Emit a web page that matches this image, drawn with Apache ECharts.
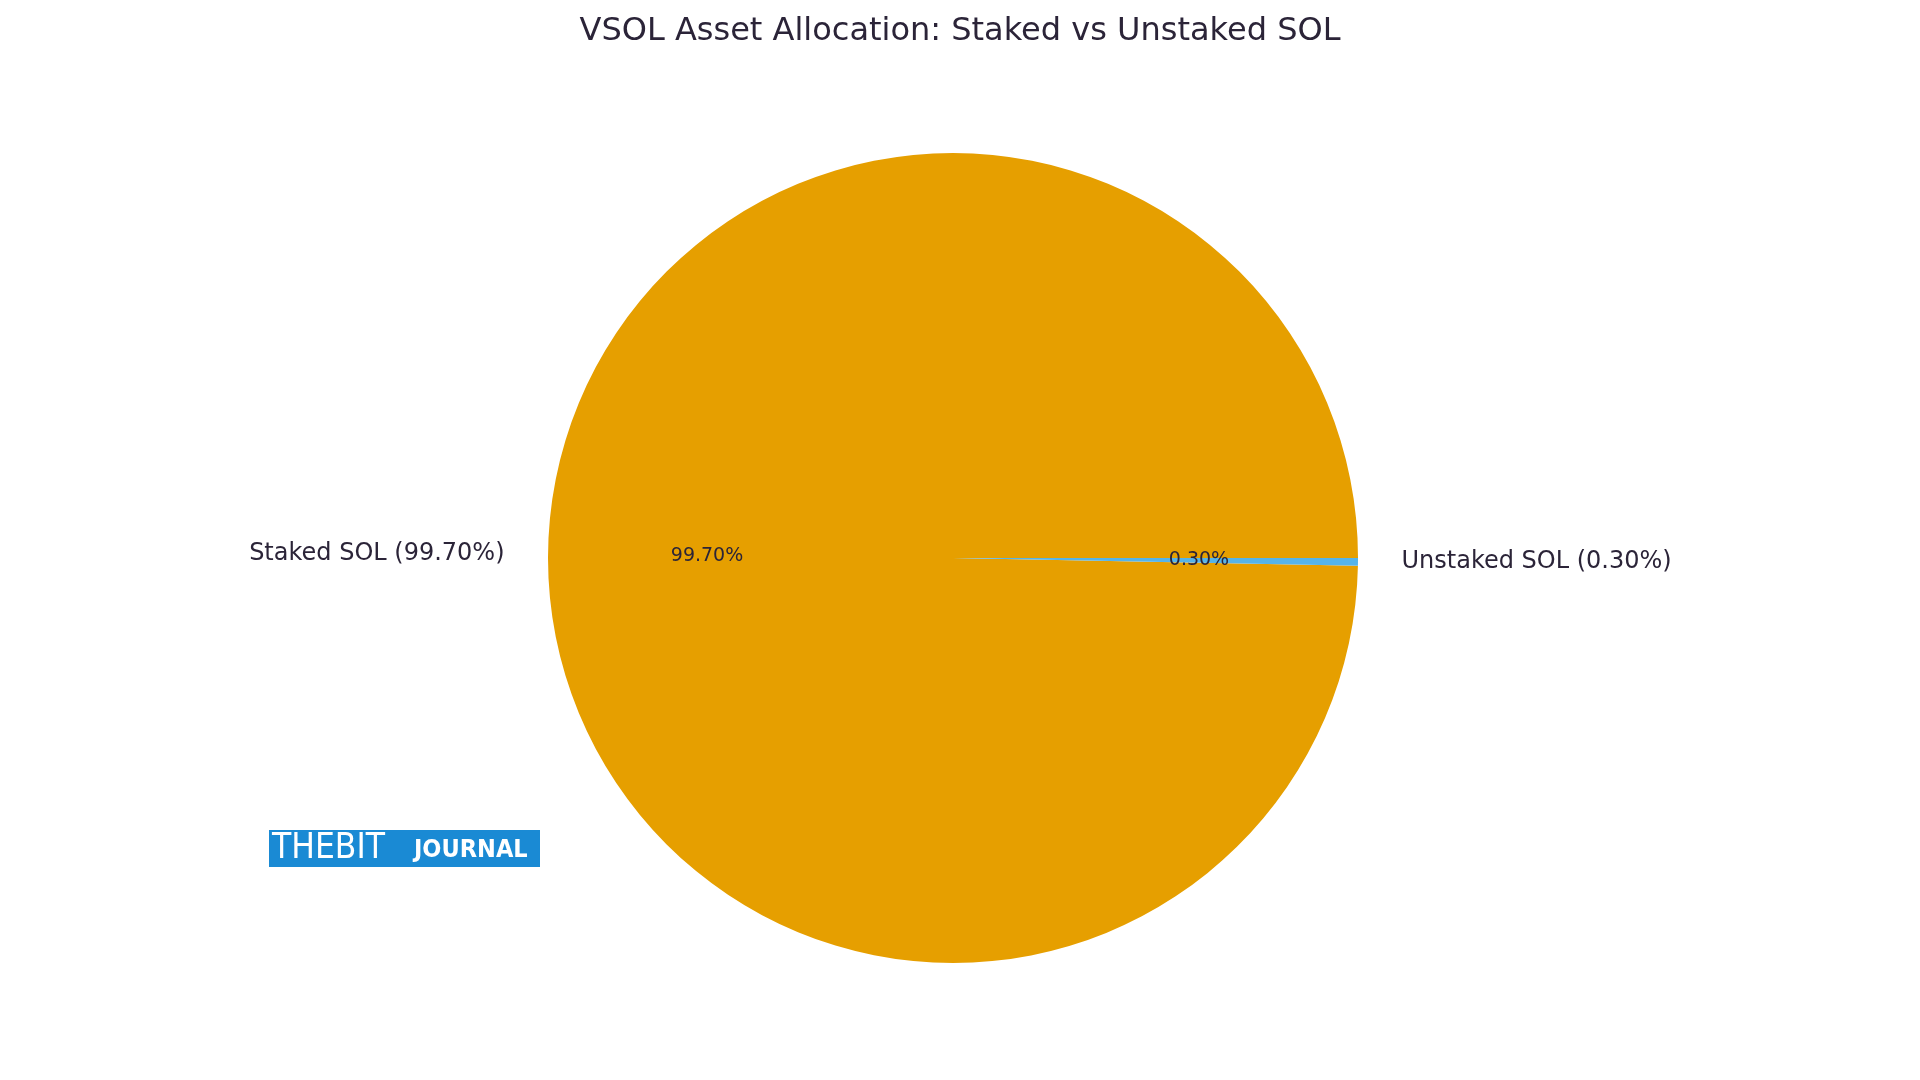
<!DOCTYPE html>
<html><head><meta charset="utf-8">
<script src="https://cdn.jsdelivr.net/npm/echarts@6/dist/echarts.min.js"></script>
<style>html,body{margin:0;padding:0;background:#fff}#c{width:1920px;height:1080px}</style>
</head><body><div id="c"></div>
<script>
const categories = ['Staked SOL', 'Unstaked SOL'];
const values = [99.70, 0.30];
const colors = ['#E69F00', '#56B4E9'];

const R = 405, cx = 953, cy = 558;
const txt = '#2b2438';
const font = 'DejaVu Sans';
const base = categories.map((n, i) => ({ name: n, value: values[i], itemStyle: { color: colors[i] } }));

const chart = echarts.init(document.getElementById('c'), null, { renderer: 'canvas' });
chart.setOption({
  backgroundColor: '#fff',
  animation: false,
  title: { text: 'VSOL Asset Allocation: Staked vs Unstaked SOL', left: 'center', top: 11,
    textStyle: { fontFamily: font, fontSize: 32, fontWeight: 'normal', color: txt } },
  graphic: [
    { type: 'rect', shape: { x: 269, y: 830, width: 271, height: 37 }, style: { fill: '#1a8ad4' } },
    { type: 'text', x: 272, y: 849, style: { text: 'THEBIT', fill: '#fff', font: '200 35px "DejaVu Sans Condensed"', textVerticalAlign: 'middle' } },
    { type: 'text', x: 414, y: 850, style: { text: 'JOURNAL', fill: '#fff', font: 'bold 25px "DejaVu Sans Condensed"', textVerticalAlign: 'middle' } }
  ],
  series: [
    { type: 'pie', center: [cx, cy], radius: [0, R], startAngle: 0, clockwise: false, silent: true,
      label: { show: false }, labelLine: { show: false }, data: base },
    { type: 'pie', center: [cx, cy], radius: [0, R * 1.2], startAngle: 0, clockwise: false, silent: true, avoidLabelOverlap: false,
      itemStyle: { color: 'transparent' }, labelLine: { show: false },
      label: { show: true, position: 'inside', formatter: p => values[p.dataIndex].toFixed(2) + '%', fontFamily: font, fontSize: 19, color: txt },
      data: categories.map((n, i) => ({ name: n, value: values[i], itemStyle: { color: 'transparent' } })) },
    { type: 'pie', center: [cx, cy], radius: [0, R * 2.2], startAngle: 0, clockwise: false, silent: true, avoidLabelOverlap: false,
      labelLine: { show: false },
      labelLayout: p => ({ dx: (p.dataIndex === 0 ? -1 : 1) * p.labelRect.width / 2 }),
      label: { show: true, position: 'inside', formatter: p => categories[p.dataIndex] + ' (' + values[p.dataIndex].toFixed(2) + '%)', fontFamily: font, fontSize: 24, color: txt },
      data: categories.map((n, i) => ({ name: n, value: values[i], itemStyle: { color: 'transparent' } })) }
  ]
});
</script></body></html>
